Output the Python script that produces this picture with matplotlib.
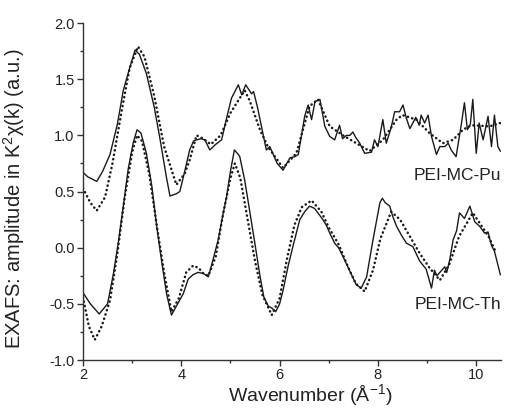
import numpy as np
import matplotlib.pyplot as plt

plt.rcParams['font.family'] = ['Liberation Sans', 'DejaVu Sans']
plt.rcParams['mathtext.default'] = 'regular'

# Daten: PEI-MC-Pu (Messung, durchgezogen)
pu_k = [2.0, 2.1, 2.28, 2.4, 2.55, 2.7, 2.82, 2.95, 3.06, 3.15, 3.29, 3.45, 3.57, 3.7,
        3.77, 3.9, 3.97, 4.07, 4.17, 4.25, 4.31, 4.4, 4.48, 4.58, 4.7, 4.82, 4.92, 5.02,
        5.16, 5.23, 5.31, 5.43, 5.47, 5.55, 5.63, 5.73, 5.8, 5.87, 5.95, 6.07, 6.21, 6.31,
        6.38, 6.51, 6.58, 6.65, 6.72, 6.82, 6.92, 7.02, 7.12, 7.22, 7.28, 7.36, 7.43, 7.49,
        7.55, 7.63, 7.73, 7.87, 7.93, 8.0, 8.1, 8.17, 8.27, 8.34, 8.44, 8.51, 8.58, 8.65,
        8.77, 8.84, 8.88, 8.95, 9.02, 9.09, 9.19, 9.26, 9.36, 9.43, 9.49, 9.59, 9.69, 9.76,
        9.82, 9.88, 9.93, 10.0, 10.06, 10.14, 10.24, 10.31, 10.37, 10.44, 10.49]
pu_chi = [0.67, 0.63, 0.59, 0.68, 0.83, 1.10, 1.40, 1.60, 1.76, 1.72, 1.55, 1.25, 0.96, 0.62,
          0.46, 0.48, 0.50, 0.68, 0.87, 0.95, 0.96, 0.97, 0.96, 0.87, 0.92, 0.96, 1.15, 1.33,
          1.45, 1.36, 1.45, 1.37, 1.39, 1.25, 1.08, 0.87, 0.90, 0.83, 0.75, 0.69, 0.80, 0.81,
          0.83, 1.17, 1.27, 1.14, 1.30, 1.32, 1.08, 0.99, 0.96, 1.09, 0.97, 1.00, 1.00, 1.03,
          0.98, 0.93, 0.84, 0.85, 0.96, 0.90, 1.14, 0.93, 1.07, 1.21, 1.21, 1.27, 1.15, 1.06,
          1.16, 1.09, 1.18, 1.11, 1.18, 0.99, 0.83, 0.90, 0.90, 0.93, 0.87, 0.81, 1.08, 1.29,
          1.05, 1.10, 1.32, 0.84, 1.11, 0.96, 1.17, 0.90, 1.18, 0.90, 0.86]

# Fit PEI-MC-Pu (gepunktet)
pu_fit_k = [2.0, 2.15, 2.28, 2.45, 2.6, 2.8, 2.95, 3.12, 3.25, 3.45, 3.65, 3.9, 4.07, 4.17,
            4.31, 4.45, 4.6, 4.8, 5.0, 5.29, 5.39, 5.6, 5.76, 6.07, 6.34, 6.61, 6.78, 7.02,
            7.29, 7.56, 7.83, 8.1, 8.38, 8.5, 8.78, 9.05, 9.32, 9.53, 9.73, 9.9, 10.27, 10.49]
pu_fit_chi = [0.53, 0.40, 0.33, 0.45, 0.75, 1.25, 1.60, 1.79, 1.70, 1.35, 0.90, 0.56, 0.66,
              0.78, 1.00, 0.97, 0.92, 1.00, 1.20, 1.40, 1.31, 1.05, 0.90, 0.71, 0.84, 1.26,
              1.32, 1.08, 1.00, 0.93, 0.86, 0.96, 1.14, 1.18, 1.14, 1.02, 0.93, 0.96, 1.05,
              1.09, 1.08, 1.11]

# PEI-MC-Th (Messung)
th_k = [2.0, 2.15, 2.33, 2.5, 2.62, 2.72, 2.82, 2.92, 3.02, 3.10, 3.18, 3.29, 3.40, 3.50,
        3.60, 3.70, 3.80, 3.90, 4.04, 4.14, 4.24, 4.34, 4.45, 4.55, 4.65, 4.75, 4.85, 4.92,
        5.0, 5.08, 5.16, 5.19, 5.29, 5.39, 5.5, 5.6, 5.68, 5.77, 5.85, 5.92, 6.0, 6.07, 6.17,
        6.27, 6.41, 6.51, 6.61, 6.71, 6.88, 6.95, 7.02, 7.12, 7.2, 7.29, 7.43, 7.56, 7.66,
        7.77, 7.90, 8.04, 8.09, 8.15, 8.24, 8.30, 8.38, 8.48, 8.58, 8.71, 8.85, 8.98, 9.09,
        9.15, 9.20, 9.26, 9.36, 9.40, 9.46, 9.53, 9.60, 9.66, 9.76, 9.87, 9.97, 10.07, 10.17,
        10.24, 10.31, 10.37, 10.49]
th_chi = [-0.40, -0.50, -0.59, -0.50, -0.23, 0.05, 0.37, 0.70, 0.93, 1.05, 1.02, 0.84, 0.55,
          0.19, -0.12, -0.41, -0.60, -0.52, -0.41, -0.28, -0.24, -0.22, -0.23, -0.26, -0.10,
          0.07, 0.30, 0.45, 0.68, 0.87, 0.83, 0.81, 0.60, 0.33, 0.03, -0.25, -0.44, -0.52,
          -0.54, -0.57, -0.50, -0.38, -0.17, 0.01, 0.25, 0.32, 0.37, 0.35, 0.25, 0.20, 0.13,
          0.04, 0.0, -0.08, -0.21, -0.33, -0.36, -0.26, 0.07, 0.40, 0.44, 0.40, 0.37, 0.28,
          0.19, 0.11, 0.04, 0.01, -0.12, -0.19, -0.36, -0.20, -0.25, -0.22, -0.17, -0.22,
          -0.11, 0.07, 0.15, 0.31, 0.26, 0.37, 0.23, 0.19, 0.13, 0.14, 0.02, -0.03, -0.24]

# Fit PEI-MC-Th
th_fit_k = [2.0, 2.12, 2.24, 2.38, 2.55, 2.7, 2.85, 3.0, 3.10, 3.2, 3.35, 3.5, 3.65, 3.80,
            3.95, 4.1, 4.24, 4.35, 4.45, 4.55, 4.7, 4.85, 5.0, 5.09, 5.2, 5.35, 5.5, 5.65,
            5.84, 6.0, 6.15, 6.3, 6.45, 6.65, 6.85, 7.0, 7.2, 7.4, 7.55, 7.73, 7.9, 8.05,
            8.27, 8.45, 8.65, 8.85, 9.05, 9.26, 9.45, 9.65, 9.93, 10.1, 10.25, 10.41]
th_fit_chi = [-0.44, -0.70, -0.82, -0.70, -0.47, -0.05, 0.45, 0.85, 1.00, 0.95, 0.65, 0.20,
              -0.22, -0.57, -0.45, -0.22, -0.16, -0.18, -0.23, -0.25, -0.08, 0.30, 0.62,
              0.75, 0.62, 0.25, -0.12, -0.42, -0.60, -0.45, -0.10, 0.20, 0.36, 0.42, 0.32,
              0.18, 0.03, -0.18, -0.32, -0.39, -0.20, 0.08, 0.32, 0.25, 0.10, -0.05, -0.18,
              -0.29, -0.15, 0.10, 0.31, 0.20, 0.10, -0.05]

fig = plt.figure(figsize=(5.1, 4.08), dpi=100)
ax = fig.add_axes([0.1627, 0.1176, 0.8193, 0.826])

farbe = "#1a1a1a"
punkte = dict(color=farbe, lw=1.8, linestyle=(0, (0.1, 1.7)), dash_capstyle="round")
ax.plot(pu_k, pu_chi, color=farbe, lw=1.0)
ax.plot(pu_fit_k, pu_fit_chi, **punkte)
ax.plot(th_k, th_chi, color=farbe, lw=1.0)
ax.plot(th_fit_k, th_fit_chi, **punkte)

ax.text(10.5, 0.64, "PEI-MC-Pu", ha="right", va="center", fontsize=12.5, color="#222222")
ax.text(10.5, -0.51, "PEI-MC-Th", ha="right", va="center", fontsize=12.5, color="#222222")

ax.set_xlim(2, 10.5)
ax.set_ylim(-1.0, 2.0)
ax.set_xticks([2, 4, 6, 8, 10])
ax.set_xticks([3, 5, 7, 9], minor=True)
ax.set_yticks([-1.0, -0.5, 0.0, 0.5, 1.0, 1.5, 2.0])
ax.set_yticks(np.arange(-0.75, 2.0, 0.5), minor=True)
ax.set_yticklabels(["-1.0", "-0.5", "0.0", "0.5", "1.0", "1.5", "2.0"])

ax.spines["top"].set_visible(False)
ax.spines["right"].set_visible(False)
for s in ["left", "bottom"]:
    ax.spines[s].set_color("#333333")
    ax.spines[s].set_linewidth(1.0)
ax.tick_params(which="major", length=4, width=1.0, labelsize=10.5, colors="#333333",
               labelcolor="#222222", pad=2)
ax.tick_params(which="minor", length=2.5, width=1.0, colors="#333333")

ax.set_xlabel("Wavenumber (Å$^{-1}$)", fontsize=14, color="#222222")
ax.set_ylabel("EXAFS: amplitude in K$^{2}$χ(k) (a.u.)", fontsize=14.5, color="#222222")
ax.xaxis.set_label_coords(0.545, -0.066)
ax.yaxis.set_label_coords(-0.135, 0.479)

fig.savefig("out.png", dpi=100)
